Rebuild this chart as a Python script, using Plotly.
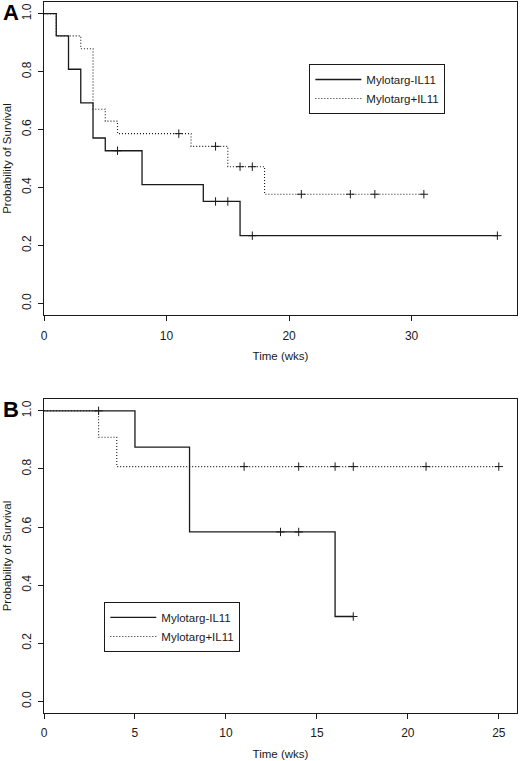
import plotly.graph_objects as go

# Panel A - step curves (time of each drop, survival after the drop)
a_minus_time = [0, 1, 2, 3, 4, 5, 8, 13, 16, 37]
a_minus_surv = [1.0, 0.923, 0.808, 0.692, 0.571, 0.527, 0.41, 0.352, 0.234, 0.234]
a_minus_cens_t = [6, 14, 15, 17, 37]
a_minus_cens_s = [0.527, 0.352, 0.352, 0.234, 0.234]

a_plus_time = [0, 1, 3, 4, 5, 6, 12, 15, 18, 31]
a_plus_surv = [1.0, 0.923, 0.879, 0.67, 0.629, 0.586, 0.542, 0.472, 0.377, 0.377]
a_plus_cens_t = [11, 14, 16, 17, 21, 25, 27, 31]
a_plus_cens_s = [0.586, 0.542, 0.472, 0.472, 0.377, 0.377, 0.377, 0.377]

# Panel B
b_minus_time = [0, 5, 8, 16, 17]
b_minus_surv = [1.0, 0.875, 0.583, 0.292, 0.292]
b_minus_cens_t = [13, 14, 17]
b_minus_cens_s = [0.583, 0.583, 0.292]

b_plus_time = [0, 3, 4, 25]
b_plus_surv = [1.0, 0.909, 0.808, 0.808]
b_plus_cens_t = [3, 11, 14, 16, 17, 21, 25]
b_plus_cens_s = [1.0, 0.808, 0.808, 0.808, 0.808, 0.808, 0.808]

names = ["Mylotarg-IL11", "Mylotarg+IL11"]
ink = "#1a1a1a"
font = "Liberation Sans, Arial, sans-serif"

fig = go.Figure()


def add_curve(t, s, ct, cs, name, dash, xa, ya, leg):
    fig.add_trace(go.Scatter(
        x=t, y=s, mode="lines", name=name, line_shape="hv",
        line=dict(color=ink, width=1.3 if dash == "solid" else 1.1, dash=dash),
        xaxis=xa, yaxis=ya, legend=leg, hoverinfo="skip"))
    fig.add_trace(go.Scatter(
        x=ct, y=cs, mode="markers", showlegend=False,
        marker=dict(symbol="cross-thin", size=6, line=dict(color=ink, width=1)),
        xaxis=xa, yaxis=ya, hoverinfo="skip"))


dotted = "1px,2px"
add_curve(a_minus_time, a_minus_surv, a_minus_cens_t, a_minus_cens_s,
          names[0], "solid", "x", "y", "legend")
add_curve(a_plus_time, a_plus_surv, a_plus_cens_t, a_plus_cens_s,
          names[1], dotted, "x", "y", "legend")
add_curve(b_minus_time, b_minus_surv, b_minus_cens_t, b_minus_cens_s,
          names[0], "solid", "x2", "y2", "legend2")
add_curve(b_plus_time, b_plus_surv, b_plus_cens_t, b_plus_cens_s,
          names[1], dotted, "x2", "y2", "legend2")

axis_common = dict(showline=True, mirror=True, linecolor=ink, linewidth=1,
                   ticks="outside", ticklen=5, tickcolor=ink, showgrid=False,
                   zeroline=False, automargin=False,
                   tickfont=dict(size=12, color=ink))

xa = dict(axis_common, ticklabelstandoff=4,
          title=dict(text="Time (wks)", font=dict(size=11.5, color=ink), standoff=10))
ya = dict(axis_common, range=[-0.04, 1.04], dtick=0.2, tick0=0, tickformat=".1f",
          tickangle=-90, ticklabelstandoff=2,
          title=dict(text="Probability of Survival", font=dict(size=11.5, color=ink), standoff=6))

legend_style = dict(bordercolor=ink, borderwidth=1, bgcolor="white",
                    font=dict(size=11.5, color=ink, family=font),
                    xanchor="left", yanchor="top", tracegroupgap=0, itemwidth=46)

fig.update_layout(
    width=520, height=761,
    margin=dict(l=44, r=3, t=2, b=48),
    paper_bgcolor="white", plot_bgcolor="white",
    font=dict(family=font, color=ink),
    xaxis=dict(xa, range=[0, 38.6], dtick=10, tick0=0, anchor="y"),
    yaxis=dict(ya, domain=[0.5596, 1], anchor="x"),
    xaxis2=dict(xa, range=[0, 26], dtick=5, tick0=0, anchor="y2"),
    yaxis2=dict(ya, domain=[0, 0.4414], anchor="x2"),
    legend=dict(legend_style, x=0.561, y=0.9128),
    legend2=dict(legend_style, x=0.1275, y=0.1562),
    annotations=[
        dict(text="<b>A</b>", x=11, y=12.5, xref="paper", yref="paper",
             showarrow=False, font=dict(size=22, color="black")),
        dict(text="<b>B</b>", x=11, y=409, xref="paper", yref="paper",
             showarrow=False, font=dict(size=22, color="black")),
    ],
)

# panel letters positioned in pixels
for ann in fig.layout.annotations:
    px, py = ann.x, ann.y
    ann.x = (px - 44) / 473
    ann.y = (713 - py) / 711
    ann.xanchor = "center"
    ann.yanchor = "middle"

fig.write_html("out.html", config={"displayModeBar": False},
               post_script="document.body.style.margin='0';document.body.style.overflow='hidden';")
